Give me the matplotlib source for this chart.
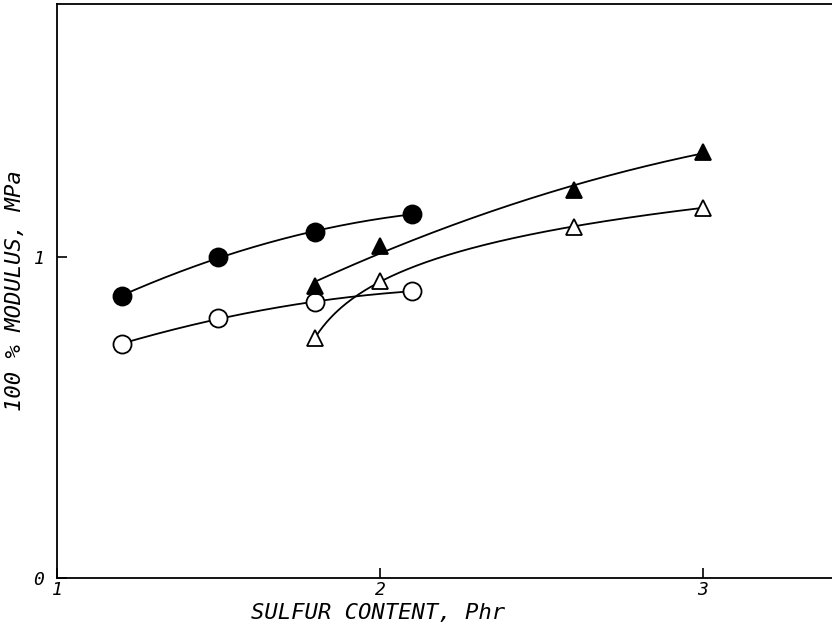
import numpy as np
from matplotlib import pyplot as plt

# sulfur content (phr) and 100% modulus (MPa)
x_circle = [1.2, 1.5, 1.8, 2.1]
y_filled_circle = [0.88, 1.00, 1.08, 1.135]
y_open_circle = [0.73, 0.81, 0.86, 0.895]

x_triangle = [1.8, 2.0, 2.6, 3.0]
y_filled_triangle = [0.91, 1.035, 1.21, 1.33]
y_open_triangle = [0.75, 0.925, 1.095, 1.155]

x_ticks = [1, 2, 3]
y_ticks = [0, 1]


def smooth(x, y, deg=2, log_shift=None):
    # smooth guide line through the points
    xs = np.linspace(min(x), max(x), 200)
    if log_shift is None:
        p = np.polyfit(x, y, deg)
        return xs, np.polyval(p, xs)
    p = np.polyfit(np.log(np.array(x) - log_shift), y, 1)
    return xs, np.polyval(p, np.log(xs - log_shift))


fig = plt.figure(figsize=(8.32, 6.32), dpi=100)
ax = fig.add_axes([0.0685, 0.0854, 0.9315, 0.9083])

font = dict(family='DejaVu Sans Mono', style='oblique', fontsize=13)
lab_font = dict(family='DejaVu Sans Mono', style='oblique', fontsize=16)

series = [(x_circle, y_filled_circle, True, 'o', None),
          (x_circle, y_open_circle, False, 'o', None),
          (x_triangle, y_filled_triangle, True, '^', None),
          (x_triangle, y_open_triangle, False, '^', 1.7)]

for x, y, filled, mk, shift in series:
    xs, ys = smooth(x, y, 2, shift)
    ax.plot(xs, ys, color='black', lw=1.3, zorder=1)
    ax.plot(x, y, linestyle='none', marker=mk,
            markersize=13 if mk == 'o' else 12,
            markerfacecolor='black' if filled else 'white',
            markeredgecolor='black', markeredgewidth=1.3, zorder=2)

ax.set_xlim(1, 3.4)
ax.set_ylim(0, 1.79)
ax.spines['right'].set_visible(False)
for s in ['left', 'bottom', 'top']:
    ax.spines[s].set_linewidth(1.3)

ax.set_xticks(x_ticks)
ax.set_xticklabels([str(v) for v in x_ticks], **font)
ax.set_yticks(y_ticks)
ax.set_yticklabels([str(v) for v in y_ticks], **font)
ax.tick_params(direction='in', length=7, width=1.2)
ax.tick_params(axis='x', pad=2)
ax.tick_params(axis='y', pad=9)

ax.set_xlabel('SULFUR CONTENT, Phr', **lab_font)
ax.xaxis.set_label_coords(0.414, -0.043)
ax.set_ylabel('100 % MODULUS, MPa', **lab_font)
ax.yaxis.set_label_coords(-0.041, 0.5)

fig.savefig('out.png', dpi=100)
